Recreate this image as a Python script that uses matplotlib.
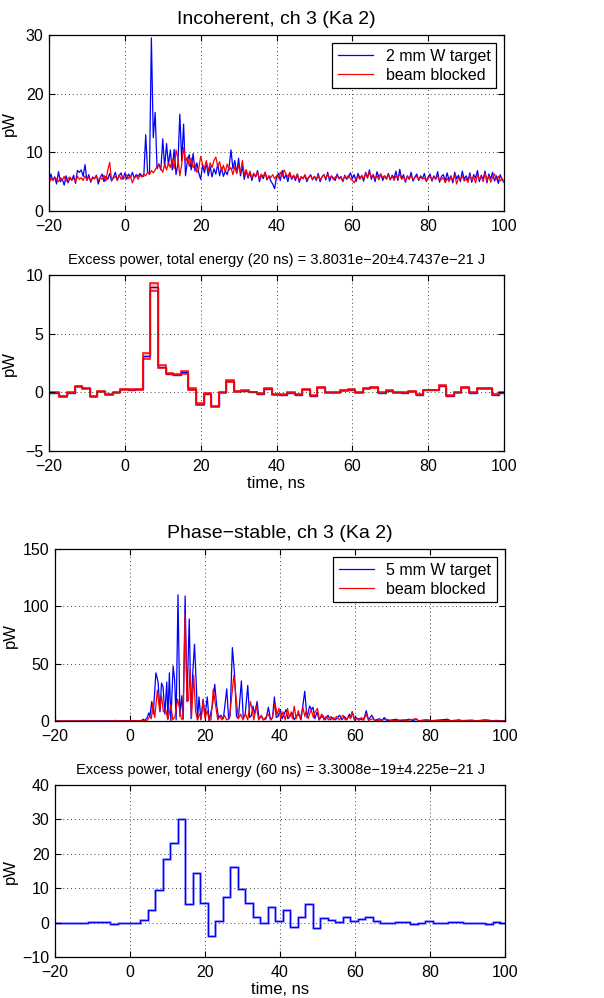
import matplotlib
matplotlib.use("Agg")
import matplotlib.pyplot as plt
import numpy as np

plt.rcParams['font.family'] = ['Liberation Sans', 'DejaVu Sans']

# ---- panel 1: incoherent, raw traces (0.5 ns grid, -20 .. 100 ns)
t1_start, t1_step = -20.0, 0.5
target_2mm = [
    5.0, 6.3, 5.2, 5.8, 4.6, 6.7, 5.0, 5.5, 4.4, 6.0, 4.8, 5.6, 5.3, 6.1, 4.7, 6.9, 6.6, 7.0, 5.9, 7.9,
    5.2, 6.2, 4.9, 5.8, 5.5, 6.1, 4.6, 5.7, 6.3, 5.0, 5.9, 5.4, 6.4, 5.1, 5.8, 6.6, 5.2, 6.0, 6.5, 5.4,
    6.5, 5.4, 6.3, 5.7, 6.6, 5.6, 6.2, 5.9, 6.4, 6.0, 5.9, 13.0, 6.6, 6.3, 29.5, 12.5, 16.8, 7.2, 8.0, 7.0,
    12.3, 7.5, 11.5, 7.8, 10.4, 7.0, 10.5, 6.2, 8.0, 16.5, 8.6, 14.8, 6.0, 8.5, 9.6, 7.0, 9.8, 6.8, 8.2, 6.5,
    5.4, 7.8, 6.5, 8.2, 6.0, 7.6, 5.8, 7.2, 6.3, 8.0, 6.0, 7.4, 5.9, 6.8, 6.2, 7.5, 10.4, 7.2, 8.6, 6.4,
    9.0, 6.0, 7.6, 5.4, 7.0, 5.6, 6.6, 5.2, 6.4, 5.8, 6.9, 5.0, 6.2, 5.5, 6.6, 5.3, 6.0, 5.1, 4.6, 3.8,
    5.8, 6.4, 5.2, 6.9, 5.5, 6.2, 5.0, 6.5, 5.4, 6.0, 5.2, 6.3, 4.9, 5.8, 5.5, 6.1, 5.0, 5.7, 6.2, 5.3,
    5.9, 5.2, 6.4, 5.0, 5.8, 6.2, 5.3, 6.6, 5.1, 6.0, 5.6, 5.2, 6.3, 5.5, 5.9, 5.0, 6.1, 5.4, 5.8, 6.5,
    5.5, 6.2, 5.0, 6.4, 5.6, 6.0, 5.1, 6.6, 5.7, 7.0, 5.4, 6.2, 5.0, 6.7, 5.8, 6.3, 5.2, 6.0, 5.5, 6.4,
    5.3, 6.1, 5.6, 6.8, 5.2, 7.1, 5.5, 6.2, 4.9, 6.0, 5.4, 6.6, 5.1, 5.8, 6.3, 5.2, 6.0, 5.5, 6.4, 5.0,
    5.8, 6.3, 5.1, 6.0, 5.4, 6.7, 4.9, 5.9, 6.2, 5.1, 6.5, 5.3, 6.0, 4.8, 6.6, 5.5, 6.1, 5.0, 6.8, 5.4,
    6.0, 5.2, 6.5, 4.9, 6.2, 5.6, 6.9, 5.0, 6.1, 5.4, 6.8, 4.8, 6.3, 5.5, 6.6, 5.1, 6.0, 4.7, 6.2, 5.3, 4.9,
]
blocked_1 = [
    4.6, 5.6, 5.2, 5.8, 5.4, 5.0, 5.7, 5.3, 5.9, 5.1, 5.5, 5.8, 5.2, 5.6, 5.0, 5.9, 5.4, 5.7, 5.2, 6.0,
    5.3, 5.8, 5.1, 5.6, 5.5, 6.0, 5.2, 5.7, 5.4, 6.1, 5.1, 7.0, 8.3, 5.2, 5.6, 5.9, 5.3, 6.2, 5.4, 5.8,
    5.6, 6.2, 5.5, 5.9, 4.8, 5.6, 6.0, 5.4, 6.1, 5.8, 6.3, 6.0, 6.6, 6.2, 6.9, 6.5, 7.0, 7.6, 8.0, 7.2,
    6.6, 8.0, 7.0, 8.2, 7.4, 8.8, 7.2, 10.4, 9.0, 6.0, 8.0, 10.8, 8.4, 9.2, 7.6, 9.0, 7.4, 8.0, 6.6, 7.2,
    9.3, 8.0, 7.2, 8.6, 6.8, 8.2, 7.4, 8.6, 9.2, 7.6, 8.4, 6.8, 7.8, 6.6, 8.0, 7.0, 7.4, 6.2, 7.6, 6.4,
    7.8, 6.5, 8.6, 6.2, 7.0, 5.8, 6.8, 5.6, 6.4, 5.9, 6.6, 5.5, 6.3, 5.8, 6.6, 5.4, 6.0, 5.7, 6.2, 5.5,
    6.0, 5.6, 6.6, 5.9, 7.0, 6.3, 5.8, 6.6, 5.5, 6.1, 5.6, 6.3, 5.2, 5.9, 5.5, 6.2, 5.3, 5.8, 6.0, 5.4,
    5.9, 5.4, 6.1, 5.3, 5.8, 6.2, 5.5, 6.3, 5.6, 5.9, 5.4, 5.8, 6.0, 5.5, 5.7, 5.2, 5.9, 5.6, 6.1, 5.5,
    5.2, 4.8, 5.6, 5.9, 5.4, 6.1, 5.5, 6.4, 5.6, 6.6, 5.8, 6.2, 5.5, 6.0, 5.3, 6.3, 5.7, 6.0, 5.4, 6.2,
    5.5, 5.9, 5.2, 6.0, 5.6, 6.3, 5.4, 5.8, 5.1, 5.9, 5.5, 6.0, 5.4, 5.7, 5.9, 5.3, 5.8, 5.5, 5.6, 5.2,
    5.6, 5.9, 5.3, 5.8, 5.5, 6.0, 5.2, 5.4, 5.7, 4.8, 5.6, 5.0, 5.8, 5.3, 6.2, 4.6, 5.7, 5.4, 6.0, 5.1,
    5.5, 4.9, 6.1, 5.3, 5.8, 4.8, 6.2, 5.4, 5.9, 5.0, 6.4, 5.2, 6.0, 4.9, 5.8, 6.3, 5.4, 5.9, 5.1, 5.6, 4.9,
]

# ---- 2 ns bins shared by the excess-power panels
bin_first_edge, bin_width = -21.25, 2.0
excess_20 = [
    -0.05, -0.05, -0.35, -0.05, 0.5, 0.35, -0.35, 0.1, -0.15, 0.0,
    0.25, 0.22, 0.28, 3.1, 9.0, 2.2, 1.6, 1.5, 1.7, 0.3,
    -1.0, -0.1, -1.2, 0.0, 0.95, 0.1, 0.15, 0.03, -0.1, 0.3,
    -0.15, -0.22, -0.05, -0.2, 0.28, -0.28, 0.43, 0.0, 0.0, 0.17,
    0.22, 0.0, 0.35, 0.42, -0.03, 0.15, 0.0, -0.02, 0.08, -0.2,
    0.2, 0.2, 0.55, -0.3, 0.0, 0.45, -0.05, 0.35, 0.35, -0.2, -0.05,
]
excess_20_err = [
    0.04, 0.04, 0.04, 0.04, 0.04, 0.04, 0.04, 0.04, 0.04, 0.04,
    0.04, 0.04, 0.04, 0.22, 0.35, 0.12, 0.06, 0.06, 0.12, 0.06,
    0.06, 0.04, 0.06, 0.04, 0.08, 0.04, 0.04, 0.04, 0.04, 0.04,
    0.04, 0.04, 0.04, 0.04, 0.04, 0.04, 0.04, 0.04, 0.04, 0.04,
    0.04, 0.04, 0.04, 0.04, 0.04, 0.04, 0.04, 0.04, 0.04, 0.04,
    0.04, 0.04, 0.04, 0.04, 0.04, 0.04, 0.04, 0.04, 0.04, 0.04, 0.04,
]

# ---- panel 3: phase-stable raw traces (peak / trough points)
t_5mm = [-20, 3, 3.5, 4, 4.6, 5.0, 5.3, 5.8, 6.2, 6.9, 7.5, 8.0, 8.4, 8.8, 9.3, 9.8, 10.1, 10.5, 10.9,
         11.5, 11.9, 12.3, 12.8, 13.3, 13.8, 14.2, 14.7, 15.2, 15.8, 16.3, 16.7, 17.2, 17.7, 18.0, 18.4,
         18.9, 19.5, 20.0, 20.6, 21.1, 22.0, 22.6, 23.1, 23.6, 24.2, 24.9, 25.8, 26.3, 26.7, 27.3, 27.9,
         28.4, 28.9, 29.7, 30.2, 30.7, 31.4, 31.9, 32.4, 32.8, 33.2, 33.9, 34.4, 35.0, 35.6, 36.3, 36.9,
         37.5, 38.0, 38.5, 39.0, 39.5, 40.1, 40.6, 41.6, 42.1, 42.6, 43.3, 43.8, 44.4, 45.0, 45.6, 46.6,
         47.2, 47.9, 48.4, 48.8, 49.3, 49.9, 50.4, 50.9, 51.4, 52.0, 52.8, 53.4, 54.1, 54.8, 55.9, 56.5,
         57.2, 57.8, 58.5, 58.9, 59.3, 59.9, 60.5, 61.2, 61.8, 62.5, 63.0, 63.6, 64.5, 65.2, 66.5, 67.2,
         67.8, 68.5, 71.0, 72, 74.5, 75.5, 76.3, 77, 79.0, 80, 84.7, 85.5, 87.8, 88.5, 91, 92, 94.9, 96,
         97.6, 100]
target_5mm = [0, 0.3, 1.5, 0.5, 3, 7, 4, 17, 6, 42, 34, 8, 33, 30, 6, 34, 2, 42, 0,
              48, 36, 1, 110, 4, 22, 2, 109, 17, 89, 2, 40, 67, 30, 1, 21,
              1, 19, 4, 21, 0, 14, 32, 14, 3, 5, 2, 28, 2, 5, 64, 40,
              4, 2, 35, 3, 5, 31, 3, 5, 13, 6, 17, 2, 4, 1, 2, 12,
              1, 3, 21, 3, 4, 10, 2, 10, 2, 4, 7, 1, 4, 6, 1, 26,
              3, 13, 10, 12, 2, 8, 1, 3, 5, 1, 5, 1, 3, 1, 5, 1,
              4, 1, 6, 3, 8, 1, 2, 2, 1, 3, 9, 1, 5, 0.5, 2, 0.5,
              3, 0.3, 1.5, 0.2, 1.5, 0.3, 1.5, 0.2, 1, 0.2, 1.5, 0.2, 1, 0.2, 0.5, 0.1, 1, 0.1,
              0.5, 0.1]
t_blocked3 = [-20, -4.5, -4, -3.5, 4.5, 5.3, 5.7, 6.1, 6.6, 7.3, 7.9, 8.4, 8.9, 9.5, 10.1, 10.9, 11.4,
              12.0, 12.7, 13.2, 13.7, 14.1, 14.7, 15.2, 15.6, 16.0, 16.4, 17.0, 17.5, 18.0, 18.6, 19.0,
              19.5, 20.0, 20.6, 21.1, 21.6, 22.2, 22.9, 23.4, 24.0, 24.5, 25.2, 25.8, 26.5, 27.7, 28.3,
              28.9, 29.5, 30.1, 30.8, 31.4, 32.1, 32.6, 33.0, 33.7, 34.3, 35.0, 35.6, 36.9, 37.5, 38.0,
              38.7, 39.2, 39.7, 40.2, 40.8, 41.4, 42.0, 42.5, 43.0, 43.3, 43.8, 44.3, 44.9, 45.4, 46.1,
              46.6, 47.0, 47.5, 48.3, 48.9, 49.4, 50.0, 50.5, 51.1, 51.7, 52.3, 52.9, 53.6, 54.2, 55.1,
              55.8, 56.8, 57.4, 58.4, 58.8, 59.2, 59.8, 60.4, 61.0, 61.7, 62.3, 63.0, 63.6, 64.8, 65.5,
              68.5, 69.5, 72.9, 73.5, 76.3, 77, 79.5, 80.5, 85.2, 86, 91.4, 92, 95.8, 96.5, 100]
blocked_3 = [0, 0, 0.6, 0, 0.3, 4, 2, 16, 3, 27, 9, 22, 8, 10, 1, 14, 1,
             4, 19, 11, 2, 1, 93, 17, 18, 45, 3, 40, 8, 1, 6, 2,
             18, 2, 9, 1, 1, 28, 12, 1, 4, 1, 5, 1, 2, 40, 20,
             2, 6, 1, 6, 1, 17, 10, 1, 13, 1, 5, 1, 6, 1, 3,
             16, 5, 11, 2, 8, 1, 11, 3, 8, 2, 13, 2, 9, 2, 12,
             4, 9, 2, 10, 3, 8, 11, 1, 6, 1, 4, 1, 4, 1, 4,
             1, 5, 1, 4, 2, 8, 1, 3, 0.5, 3, 0.5, 6, 0.5, 2, 0.2,
             1.5, 0.2, 1, 0.2, 2, 0.2, 1, 0.2, 0.5, 0.1, 0.8, 0.1, 0.8, 0.1, 0.1]

excess_60 = [
    0.0, 0.0, 0.0, 0.0, 0.0, 0.15, 0.15, 0.15, -0.35, -0.05,
    -0.05, -0.05, 0.8, 3.7, 9.4, 18.6, 23.1, 30.1, 5.3, 14.4,
    5.7, -3.9, 0.5, 7.4, 16.2, 9.7, 5.6, 1.7, -0.1, 4.6,
    0.5, 3.6, -1.2, 1.6, 5.5, -1.5, 1.3, 0.8, 0.2, 1.6,
    0.4, 1.0, 1.5, 0.5, -0.1, 0.0, 0.1, 0.1, -0.5, -0.1,
    0.35, -0.1, -0.1, 0.1, 0.05, -0.2, 0.0, 0.0, -0.4, 0.15, 0.0,
]

titles = ["Incoherent, ch 3 (Ka 2)",
          "Excess power, total energy (20 ns) = 3.8031e\u221220\u00b14.7437e\u221221 J",
          "Phase\u2212stable, ch 3 (Ka 2)",
          "Excess power, total energy (60 ns) = 3.3008e\u221219\u00b14.225e\u221221 J"]

W, H = 604, 998
fig = plt.figure(figsize=(W / 100, H / 100), dpi=100)


def box(l, t, r, b):
    return fig.add_axes([l / W, 1 - b / H, (r - l) / W, (b - t) / H])


def style(ax, yticks, label_x):
    ax.set_xlim(-20, 100)
    ax.set_xticks(range(-20, 101, 20))
    ax.set_ylim(yticks[0], yticks[-1])
    ax.set_yticks(yticks)
    ax.set_xticklabels([str(v).replace('-', '\u2212') for v in range(-20, 101, 20)])
    ax.set_yticklabels([str(v).replace('-', '\u2212') for v in yticks])
    ax.grid(True, linestyle=(0, (1, 3)), color='#444444', linewidth=0.7)
    ax.tick_params(direction='in', top=True, right=True, labelsize=11.5, length=4, width=0.8)
    ax.tick_params(axis='x', pad=6)
    ax.tick_params(axis='y', pad=4)
    for s in ax.spines.values():
        s.set_linewidth(0.9)
    ax.set_ylabel('pW', fontsize=12)
    ax.yaxis.set_label_coords(label_x, 0.5)


def legend(ax, labels):
    lg = ax.legend(labels, loc='upper right', fontsize=11.5, fancybox=False, framealpha=1,
                   edgecolor='black', handlelength=2.2, borderpad=0.35, labelspacing=0.25,
                   borderaxespad=0.5)
    lg.get_frame().set_linewidth(0.9)


edges = bin_first_edge + bin_width * np.arange(len(excess_20) + 1)

# panel 1
ax1 = box(49, 35, 504, 211)
t1 = t1_start + t1_step * np.arange(len(target_2mm))
ax1.plot(t1, target_2mm, color='#0000ff', lw=0.9)
ax1.plot(t1, blocked_1, color='#ff0000', lw=0.9)
style(ax1, [0, 10, 20, 30], -0.07)
legend(ax1, ['2 mm W target', 'beam blocked'])
ax1.set_title(titles[0], fontsize=14, pad=8)

# panel 2
ax2 = box(49, 275, 504, 451)
v20 = np.array(excess_20)
e20 = np.array(excess_20_err)
ax2.stairs(v20 + e20, edges, baseline=v20 - e20, fill=True, color='#ff9999', alpha=0.7, lw=0)
ax2.stairs(v20, edges, baseline=None, color='#0000ff', lw=1.0)
ax2.stairs(v20 + e20, edges, baseline=None, color='#ff0000', lw=1.1)
ax2.stairs(v20 - e20, edges, baseline=None, color='#ff0000', lw=1.1)
style(ax2, [-5, 0, 5, 10], -0.07)
ax2.set_xlabel('time, ns', fontsize=12, labelpad=1)
ax2.set_title(titles[1], fontsize=10.5, pad=8)

# panel 3
ax3 = box(55, 549, 505, 721)
ax3.plot(t_5mm, target_5mm, color='#0000ff', lw=0.9)
ax3.plot(t_blocked3, blocked_3, color='#ff0000', lw=0.9)
style(ax3, [0, 50, 100, 150], -0.082)
legend(ax3, ['5 mm W target', 'beam blocked'])
ax3.set_title(titles[2], fontsize=14, pad=8)

# panel 4
ax4 = box(55, 785, 505, 957)
ax4.stairs(excess_60, edges, baseline=None, color='#b8b8ff', lw=2.0)
ax4.stairs(excess_60, edges, baseline=None, color='#0000ff', lw=1.0)
style(ax4, [-10, 0, 10, 20, 30, 40], -0.082)
ax4.set_xlabel('time, ns', fontsize=12, labelpad=1)
ax4.set_title(titles[3], fontsize=10.5, pad=8)

fig.savefig('out.png', dpi=100)
